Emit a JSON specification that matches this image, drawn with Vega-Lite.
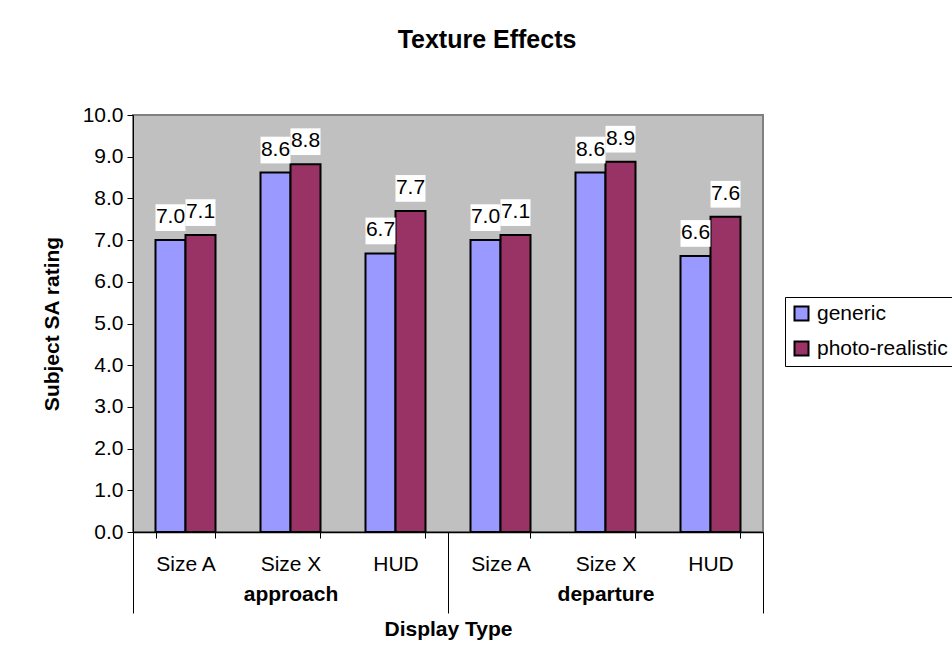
{
  "$schema": "https://vega.github.io/schema/vega-lite/v6.json",
  "width": 630,
  "height": 417,
  "autosize": {"type": "none"},
  "padding": {"left": 133, "top": 115, "right": 189, "bottom": 138},
  "background": "white",
  "title": {"text": "Texture Effects", "fontSize": 25, "fontWeight": "bold", "font": "Liberation Sans", "color": "black", "anchor": "middle", "frame": "group", "dx": 39, "offset": 31, "baseline": "alphabetic"},
  "data": {
    "values": [
      {"group": "approach", "cat": "Size A", "pos": "approach|Size A", "series": "generic", "value": 7.0},
      {"group": "approach", "cat": "Size A", "pos": "approach|Size A", "series": "photo-realistic", "value": 7.12},
      {"group": "approach", "cat": "Size X", "pos": "approach|Size X", "series": "generic", "value": 8.62},
      {"group": "approach", "cat": "Size X", "pos": "approach|Size X", "series": "photo-realistic", "value": 8.82},
      {"group": "approach", "cat": "HUD", "pos": "approach|HUD", "series": "generic", "value": 6.68},
      {"group": "approach", "cat": "HUD", "pos": "approach|HUD", "series": "photo-realistic", "value": 7.7},
      {"group": "departure", "cat": "Size A", "pos": "departure|Size A", "series": "generic", "value": 7.0},
      {"group": "departure", "cat": "Size A", "pos": "departure|Size A", "series": "photo-realistic", "value": 7.12},
      {"group": "departure", "cat": "Size X", "pos": "departure|Size X", "series": "generic", "value": 8.62},
      {"group": "departure", "cat": "Size X", "pos": "departure|Size X", "series": "photo-realistic", "value": 8.88},
      {"group": "departure", "cat": "HUD", "pos": "departure|HUD", "series": "generic", "value": 6.62},
      {"group": "departure", "cat": "HUD", "pos": "departure|HUD", "series": "photo-realistic", "value": 7.56}
    ]
  },
  "layer": [
    {
      "encoding": {
        "x": {
          "field": "pos", "type": "nominal", "sort": null,
          "scale": {"paddingInner": 0.4286, "paddingOuter": 0.2143},
          "axis": {"orient": "bottom", "title": null, "offset": -6, "domain": false, "tickBand": "extent", "tickSize": 12, "tickColor": "black", "labelExpr": "split(datum.label, '|')[1]", "labelFont": "Liberation Sans", "labelFontSize": 21, "labelColor": "black", "labelAngle": 0, "labelPadding": 15, "labelBaseline": "top"}
        },
        "xOffset": {"field": "series", "type": "nominal", "scale": {"paddingInner": 0, "paddingOuter": 0}},
        "y": {
          "field": "value", "type": "quantitative",
          "scale": {"domain": [0, 10], "nice": false},
          "axis": {"title": "Subject SA rating", "format": ".1f", "values": [0, 1, 2, 3, 4, 5, 6, 7, 8, 9, 10], "labelFont": "Liberation Sans", "labelFontSize": 21, "labelColor": "black", "tickSize": 6, "tickColor": "black", "labelPadding": 4, "domainColor": "black", "titleFont": "Liberation Sans", "titleFontSize": 21, "titleFontWeight": "bold", "titleColor": "black", "titlePadding": 20, "grid": false}
        }
      },
      "layer": [
        {
          "mark": {"type": "bar", "stroke": "black", "strokeWidth": 2},
          "encoding": {
            "color": {
              "field": "series", "type": "nominal",
              "scale": {"domain": ["generic", "photo-realistic"], "range": ["#9999FF", "#993366"]},
              "legend": {"title": null, "orient": "none", "legendX": 652, "legendY": 182, "labelFont": "Liberation Sans", "labelFontSize": 21, "labelColor": "black", "symbolType": "square", "symbolSize": 196, "symbolStrokeColor": "black", "symbolStrokeWidth": 2, "strokeColor": "black", "fillColor": "white", "padding": 6, "rowPadding": 12, "labelOffset": 5}
            }
          }
        },
        {
          "mark": {"type": "point", "shape": "M-1,-0.89H1V0.89H-1Z", "size": 900, "filled": true, "color": "white", "opacity": 1, "strokeWidth": 0, "yOffset": -22.5}
        },
        {
          "mark": {"type": "text", "font": "Liberation Sans", "fontSize": 21, "baseline": "alphabetic", "yOffset": -17, "color": "black"},
          "encoding": {"text": {"field": "value", "type": "quantitative", "format": ".1f"}}
        }
      ]
    },
    {
      "mark": {"type": "rule", "opacity": 0},
      "encoding": {
        "x": {
          "field": "group", "type": "nominal", "sort": null,
          "scale": {"type": "band", "paddingInner": 0, "paddingOuter": 0},
          "axis": {"orient": "bottom", "title": "Display Type", "offset": 0, "domain": true, "domainColor": "black", "domainWidth": 1.5, "tickBand": "extent", "tickSize": 81, "tickColor": "black", "labelFont": "Liberation Sans", "labelFontSize": 21, "labelFontWeight": "bold", "labelColor": "black", "labelAngle": 0, "labelPadding": -29.5, "labelBaseline": "top", "titleFont": "Liberation Sans", "titleFontSize": 21, "titleFontWeight": "bold", "titleColor": "black", "titlePadding": 5}
        }
      }
    }
  ],
  "resolve": {"scale": {"x": "independent"}, "axis": {"x": "independent"}},
  "config": {
    "font": "Liberation Sans",
    "view": {"fill": "#C0C0C0", "stroke": "#808080", "strokeWidth": 2},
    "axis": {"grid": false}
  }
}
